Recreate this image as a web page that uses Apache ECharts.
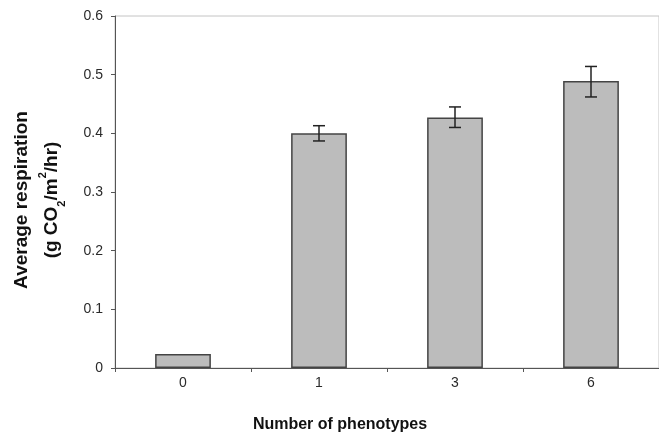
<!DOCTYPE html>
<html>
<head>
<meta charset="utf-8">
<script src="https://cdn.jsdelivr.net/npm/echarts@6/dist/echarts.min.js"></script>
<style>
  html, body { margin: 0; padding: 0; background: #fff; }
  #chart { width: 659px; height: 438px; }
</style>
</head>
<body>
<div id="chart"></div>
<script>
let categories = ['0', '1', '3', '6'];
let respiration = [0.024, 0.400, 0.427, 0.489];
let errLow = [null, 0.387, 0.410, 0.462];
let errHigh = [null, 0.413, 0.445, 0.514];
let yTicks = [0, 0.1, 0.2, 0.3, 0.4, 0.5, 0.6];

let respChart = echarts.init(document.getElementById('chart'));

let errData = [];
categories.forEach(function (c, i) {
    if (errLow[i] !== null) errData.push([i, errLow[i], errHigh[i]]);
});

let titleFont = 'Liberation Sans, Arial';

let option = {
    animation: false,
    grid: {
        left: 115,
        right: 0,
        top: 16,
        bottom: 70,
        containLabel: false,
        outerBoundsMode: 'none',
        show: true,
        borderColor: '#c4c4c4',
        borderWidth: 1
    },
    xAxis: {
        type: 'category',
        data: categories,
        name: 'Number of phenotypes',
        nameLocation: 'middle',
        nameGap: 49,
        nameTextStyle: {
            fontFamily: titleFont,
            fontWeight: 'bold',
            fontSize: 16,
            color: '#111',
            padding: [0, 94, 0, 0]
        },
        axisLine: { lineStyle: { color: '#555', width: 1 } },
        axisTick: { show: true, length: 4, lineStyle: { color: '#555' } },
        axisLabel: {
            fontFamily: titleFont,
            fontSize: 14,
            color: '#2a2a2a',
            margin: 8
        }
    },
    yAxis: {
        type: 'value',
        min: 0,
        max: 0.6,
        interval: 0.1,
        name: '{b|Average respiration}\n{b|(g CO}{sub|2}{b|/m}{sup|2}{b|/hr)}',
        nameLocation: 'middle',
        nameRotate: 90,
        nameGap: 48,
        nameTextStyle: {
            padding: [0, 16, 0, 0],
            rich: {
                b: {
                    fontFamily: titleFont,
                    fontWeight: 'bold',
                    fontSize: 19,
                    color: '#111',
                    lineHeight: 30
                },
                sub: {
                    fontFamily: titleFont,
                    fontWeight: 'bold',
                    fontSize: 11,
                    color: '#111',
                    lineHeight: 24,
                    verticalAlign: 'bottom'
                },
                sup: {
                    fontFamily: titleFont,
                    fontWeight: 'bold',
                    fontSize: 11,
                    color: '#111',
                    lineHeight: 26,
                    verticalAlign: 'top'
                }
            }
        },
        axisLine: { show: true, lineStyle: { color: '#555', width: 1 } },
        axisTick: { show: true, length: 4, lineStyle: { color: '#555' } },
        splitLine: { show: false },
        axisLabel: {
            fontFamily: titleFont,
            fontSize: 14,
            color: '#2a2a2a',
            margin: 12,
            formatter: function (v) {
                let r = Math.round(v * 10) / 10;
                return yTicks.indexOf(r) >= 0 ? String(r) : '';
            }
        }
    },
    series: [
        {
            name: 'respiration',
            type: 'bar',
            data: respiration,
            barWidth: '41%',
            itemStyle: {
                color: '#bcbcbc',
                borderColor: '#444',
                borderWidth: 1.5
            }
        },
        {
            name: 'error',
            type: 'custom',
            data: errData,
            z: 5,
            renderItem: function (params, api) {
                let x = api.value(0);
                let lo = api.coord([x, api.value(1)]);
                let hi = api.coord([x, api.value(2)]);
                let cap = 6;
                let st = { stroke: '#222', lineWidth: 1.5 };
                return {
                    type: 'group',
                    children: [
                        { type: 'line', shape: { x1: lo[0], y1: lo[1], x2: hi[0], y2: hi[1] }, style: st },
                        { type: 'line', shape: { x1: lo[0] - cap, y1: lo[1], x2: lo[0] + cap, y2: lo[1] }, style: st },
                        { type: 'line', shape: { x1: hi[0] - cap, y1: hi[1], x2: hi[0] + cap, y2: hi[1] }, style: st }
                    ]
                };
            }
        }
    ]
};

respChart.setOption(option);
</script>
</body>
</html>
